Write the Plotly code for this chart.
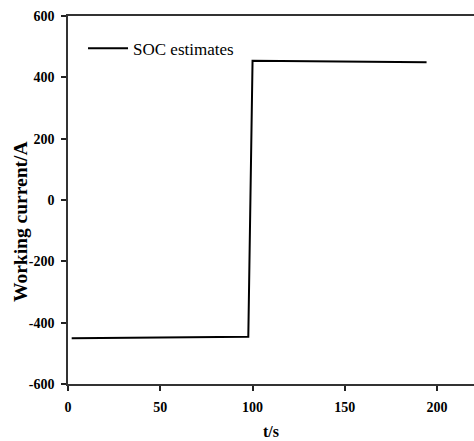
import plotly.graph_objects as go

t_values = [2, 97.7, 100, 194.3]
current_values = [-451, -446, 454, 449]
series_name = "SOC estimates"
x_ticks = [0, 50, 100, 150, 200]
x_tick_labels = ["0", "50", "100", "150", "200"]
y_ticks = [-600, -400, -200, 0, 200, 400, 600]
y_tick_labels = ["-600", "-400", "-200", "0", "200", "400", "600"]

fig = go.Figure()
fig.add_trace(go.Scatter(x=t_values, y=current_values, mode="lines", name=series_name,
                         line=dict(color="black", width=2)))

serif = "Liberation Serif"
tick_font = dict(family=serif, size=14, color="black")
axis_common = dict(showgrid=False, zeroline=False, showline=True, linecolor="#333333", linewidth=1.5,
                   ticks="outside", ticklen=5, tickwidth=1.5, tickcolor="#222222", automargin=False,
                   tickfont=tick_font,
                   minor=dict(ticks="outside", ticklen=3, tickwidth=1, tickcolor="#222222", nticks=2))

fig.update_xaxes(range=[0, 220], tickvals=x_ticks, ticktext=["<b>%s</b>" % s for s in x_tick_labels],
                 mirror=True, ticklabelstandoff=4, **axis_common)
fig.update_yaxes(range=[-600, 600], tickvals=y_ticks, ticktext=["<b>%s</b>" % s for s in y_tick_labels],
                 mirror=False, ticklabelstandoff=4, **axis_common)

fig.add_annotation(text="<b>t/s</b>", xref="paper", yref="paper", x=0.5, y=0, yshift=-47,
                   xanchor="center", yanchor="middle", showarrow=False,
                   font=dict(family=serif, size=16, color="black"))
fig.add_annotation(text="<b>Working current/A</b>", xref="paper", yref="paper", x=0, y=0.5,
                   xshift=-48, yshift=-22,
                   xanchor="center", yanchor="middle", textangle=-90, showarrow=False,
                   font=dict(family=serif, size=19.5, color="black"))

fig.update_layout(width=474, height=441, margin=dict(l=68, r=0, t=16, b=57),
                  plot_bgcolor="white", paper_bgcolor="white",
                  showlegend=True,
                  legend=dict(x=0.037, y=0.96, xanchor="left", yanchor="top", bgcolor="rgba(0,0,0,0)",
                              itemwidth=40,
                              font=dict(family=serif, size=17, color="black")))

fig.write_html("out.html", config={"displayModeBar": False},
               post_script="document.body.style.margin='0';document.body.style.overflow='hidden';")
